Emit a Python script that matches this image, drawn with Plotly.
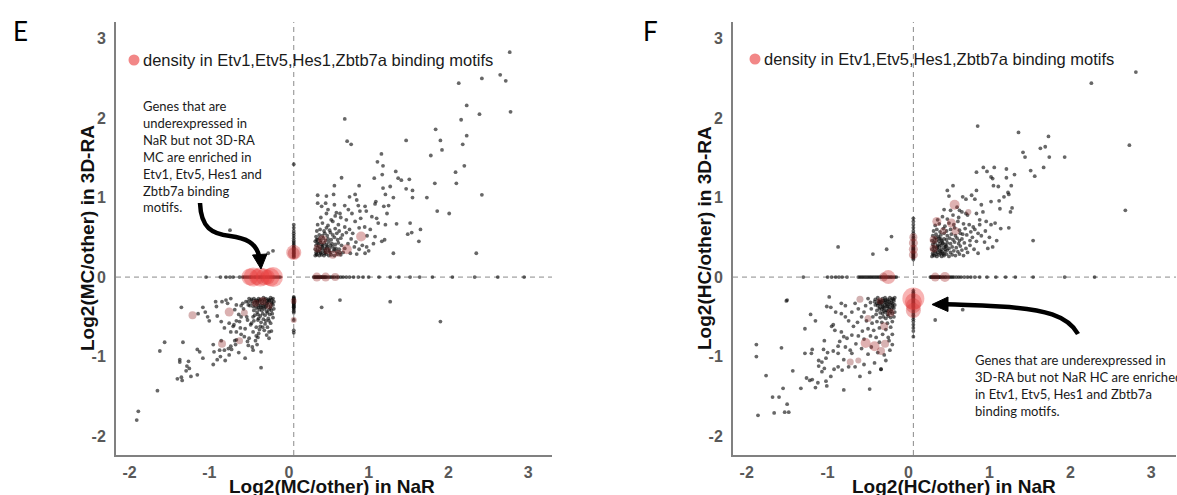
import plotly.graph_objects as go

W, H = 1177, 495

tick_vals = [-2, -1, 0, 1, 2, 3]
tick_text = ['-2', '-1', '0', '1', '2', '3']

# ---------------- Panel E : MC ----------------
e_scatter = [
    (2.77, 2.83), (2.65, 2.545), (2.72, 2.47), (2.42, 2.50), (2.13, 2.44), (2.23, 2.16), (2.39, 2.05),
    (2.78, 2.08), (2.16, 1.98), (0.70, 1.99), (1.84, 1.86), (2.23, 1.78), (2.18, 1.67), (1.90, 1.72),
    (1.92, 1.60), (1.47, 1.72), (0.73, 1.71), (0.78, 1.67), (1.78, 1.53), (1.16, 1.55), (1.11, 1.45),
    (1.18, 1.40), (2.20, 1.40), (2.09, 1.32), (1.34, 1.33), (1.17, 1.29), (1.07, 1.245), (0.66, 1.25),
    (1.37, 1.245), (1.41, 1.22), (1.51, 1.23), (2.10, 1.18), (1.83, 1.18), (0.57, 1.15), (0.88, 1.15),
    (1.27, 1.14), (1.18, 1.12), (1.47, 1.11), (1.55, 1.09), (2.42, 1.035), (0.36, 1.03), (0.47, 1.02),
    (0.56, 1.04), (0.76, 1.01), (0.83, 1.04), (1.21, 1.04), (1.55, 1.00), (1.73, 1.00), (1.31, 1.00),
    (0.36, 0.93), (0.46, 0.93), (0.57, 0.91), (0.70, 0.90), (0.85, 0.97), (0.87, 0.90), (1.09, 0.95),
    (1.08, 0.92), (0.955, 0.89), (1.19, 0.89), (1.25, 0.90), (1.86, 0.83), (2.01, 0.80), (0.41, 0.89),
    (0.49, 0.85), (0.595, 0.81), (0.64, 0.80), (0.745, 0.85), (0.89, 0.83), (0.79, 0.80), (0.97, 0.83),
    (1.04, 0.76), (1.10, 0.74), (1.23, 0.80), (1.35, 0.67), (1.54, 0.56), (1.52, 0.68), (1.65, 0.60),
    (1.49, 0.54), (1.63, 0.45), (1.31, 0.30), (2.35, 0.30), (1.20, 0.47), (1.165, 0.45), (1.08, 0.51),
    (1.12, 0.68), (1.21, 0.66), (0.975, 0.38), (0.955, 0.30),
    (-0.74, 0.59), (-0.26, 0.30), (-0.20, 0.33), (0.41, -0.38), (0.64, -0.29), (1.27, -0.31),
    (1.90, -0.56), (0.06, 1.42),
]
e_cluster_ne = [
    (0.33, 0.27), (0.35, 0.28), (0.38, 0.27), (0.41, 0.28), (0.44, 0.27), (0.47, 0.29), (0.50, 0.27),
    (0.53, 0.28), (0.57, 0.27), (0.61, 0.29), (0.65, 0.28), (0.34, 0.31), (0.37, 0.32), (0.40, 0.30),
    (0.43, 0.33), (0.46, 0.31), (0.49, 0.34), (0.52, 0.31), (0.56, 0.33), (0.60, 0.32), (0.68, 0.31),
    (0.33, 0.35), (0.36, 0.37), (0.39, 0.35), (0.42, 0.38), (0.45, 0.36), (0.48, 0.39), (0.51, 0.36),
    (0.55, 0.38), (0.59, 0.36), (0.63, 0.35), (0.70, 0.36), (0.34, 0.40), (0.37, 0.42), (0.41, 0.41),
    (0.44, 0.43), (0.47, 0.41), (0.50, 0.44), (0.54, 0.42), (0.58, 0.41), (0.62, 0.43), (0.66, 0.40),
    (0.33, 0.45), (0.36, 0.47), (0.40, 0.46), (0.43, 0.49), (0.46, 0.46), (0.49, 0.48), (0.53, 0.47),
    (0.57, 0.50), (0.61, 0.47), (0.65, 0.49), (0.34, 0.51), (0.38, 0.53), (0.42, 0.52), (0.45, 0.55),
    (0.48, 0.52), (0.52, 0.56), (0.55, 0.53), (0.60, 0.55), (0.67, 0.53), (0.35, 0.58), (0.39, 0.60),
    (0.44, 0.58), (0.47, 0.62), (0.51, 0.59), (0.58, 0.61), (0.63, 0.58), (0.72, 0.56), (0.36, 0.66),
    (0.42, 0.68), (0.49, 0.65), (0.55, 0.70), (0.62, 0.66), (0.70, 0.63), (0.76, 0.60), (0.80, 0.55),
    (0.78, 0.48), (0.84, 0.44), (0.74, 0.42), (0.82, 0.38), (0.88, 0.35), (0.77, 0.30), (0.85, 0.29),
    (0.92, 0.40), (0.98, 0.52), (1.02, 0.60), (0.95, 0.63), (0.88, 0.62), (1.06, 0.42), (1.00, 0.33),
    (0.72, 0.72), (0.65, 0.75), (0.58, 0.77), (0.83, 0.70), (0.90, 0.74), (0.40, 0.75), (0.47, 0.80),
    (0.53, 0.72), (0.345, 0.29), (0.395, 0.31), (0.445, 0.30), (0.355, 0.33), (0.405, 0.36),
    (0.455, 0.34), (0.505, 0.32), (0.375, 0.39), (0.425, 0.40), (0.475, 0.37), (0.355, 0.43),
    (0.395, 0.44), (0.52, 0.40), (0.57, 0.35), (0.385, 0.49), (0.345, 0.47), (0.64, 0.31),
]
e_band_h = [
    (0.31, 0), (0.32, 0), (0.33, 0), (0.34, 0), (0.35, 0), (0.36, 0), (0.37, 0), (0.38, 0), (0.39, 0),
    (0.40, 0), (0.41, 0), (0.42, 0), (0.43, 0), (0.44, 0), (0.45, 0), (0.46, 0), (0.47, 0), (0.49, 0),
    (0.51, 0), (0.53, 0), (0.55, 0), (0.57, 0), (0.60, 0), (0.62, 0), (0.65, 0), (0.68, 0), (0.72, 0),
    (0.76, 0), (0.81, 0), (0.87, 0), (0.93, 0), (1.00, 0), (1.13, 0), (1.27, 0), (1.38, 0), (1.52, 0),
    (1.64, 0), (1.80, 0), (2.05, 0), (2.33, 0), (2.62, 0), (2.95, 0),
    (-1.04, 0), (-0.86, 0), (-0.79, 0), (-0.74, 0), (-0.70, 0), (-0.62, 0), (-0.58, 0), (-0.56, 0),
    (-0.54, 0), (-0.52, 0), (-0.50, 0), (-0.48, 0), (-0.47, 0), (-0.45, 0), (-0.43, 0), (-0.42, 0),
    (-0.40, 0), (-0.38, 0), (-0.37, 0), (-0.35, 0), (-0.34, 0), (-0.32, 0), (-0.31, 0), (-0.29, 0),
    (-0.28, 0), (-0.26, 0), (-0.25, 0), (-0.23, 0), (-0.22, 0), (-0.20, 0), (-0.19, 0), (-0.17, 0),
    (-0.15, 0), (-0.13, 0), (-0.11, 0),
]
e_band_v = [
    (0.06, 0.25), (0.06, 0.26), (0.06, 0.27), (0.06, 0.28), (0.06, 0.29), (0.06, 0.30), (0.06, 0.31),
    (0.06, 0.32), (0.06, 0.33), (0.06, 0.34), (0.06, 0.35), (0.06, 0.36), (0.06, 0.37), (0.06, 0.38),
    (0.06, 0.40), (0.06, 0.42), (0.06, 0.44), (0.06, 0.46), (0.06, 0.49), (0.06, 0.52), (0.06, 0.55),
    (0.06, 0.58), (0.06, 0.62), (0.06, 0.66),
    (0.06, -0.25), (0.06, -0.26), (0.06, -0.27), (0.06, -0.28), (0.06, -0.29), (0.06, -0.30),
    (0.06, -0.31), (0.06, -0.32), (0.06, -0.33), (0.06, -0.34), (0.06, -0.35), (0.06, -0.36),
    (0.06, -0.37), (0.06, -0.38), (0.06, -0.39), (0.06, -0.41), (0.06, -0.43), (0.06, -0.45),
    (0.06, -0.54), (0.06, -0.67), (0.06, -0.70),
]
e_cluster_sw = [
    (-0.20, -0.27), (-0.23, -0.26), (-0.26, -0.28), (-0.29, -0.27), (-0.32, -0.26), (-0.35, -0.28),
    (-0.38, -0.27), (-0.41, -0.29), (-0.44, -0.27), (-0.47, -0.28), (-0.50, -0.27), (-0.19, -0.31),
    (-0.22, -0.32), (-0.25, -0.30), (-0.28, -0.33), (-0.31, -0.31), (-0.34, -0.33), (-0.37, -0.31),
    (-0.40, -0.34), (-0.43, -0.32), (-0.46, -0.33), (-0.51, -0.31), (-0.20, -0.35), (-0.23, -0.37),
    (-0.26, -0.35), (-0.29, -0.38), (-0.32, -0.36), (-0.35, -0.38), (-0.38, -0.36), (-0.41, -0.39),
    (-0.45, -0.37), (-0.49, -0.36), (-0.19, -0.40), (-0.22, -0.42), (-0.25, -0.41), (-0.28, -0.43),
    (-0.31, -0.40), (-0.34, -0.42), (-0.37, -0.41), (-0.40, -0.44), (-0.44, -0.42), (-0.21, -0.46),
    (-0.24, -0.47), (-0.27, -0.45), (-0.30, -0.48), (-0.33, -0.46), (-0.36, -0.49), (-0.39, -0.47),
    (-0.43, -0.48), (-0.20, -0.51), (-0.26, -0.52), (-0.32, -0.53), (-0.38, -0.52), (-0.35, -0.57),
    (-0.36, -0.62), (-0.37, -0.66), (-0.38, -0.71), (-0.39, -0.76), (-0.42, -0.80), (-0.40, -0.85),
    (-0.29, -0.55), (-0.23, -0.58), (-0.27, -0.63), (-0.22, -0.68), (-0.44, -0.55), (-0.48, -0.60),
    (-0.53, -0.50), (-0.57, -0.40), (-0.60, -0.36), (-0.63, -0.47), (-0.66, -0.55), (-0.70, -0.62),
    (-0.55, -0.65), (-0.60, -0.72), (-0.68, -0.80), (-0.51, -0.86), (-0.45, -0.92), (-0.63, -0.95),
    (-0.75, -0.98), (-0.80, -1.05), (-0.86, -1.00), (-0.95, -1.10), (-0.55, -1.02),
    (-0.215, -0.285), (-0.245, -0.29), (-0.275, -0.30), (-0.305, -0.285), (-0.335, -0.30),
    (-0.365, -0.29), (-0.395, -0.30), (-0.425, -0.30), (-0.215, -0.335), (-0.265, -0.32),
    (-0.305, -0.345), (-0.355, -0.35), (-0.395, -0.32), (-0.235, -0.39), (-0.285, -0.365),
    (-0.335, -0.38), (-0.385, -0.385), (-0.425, -0.36), (-0.47, -0.30),
]
e_scatter_sw = [
    (-1.91, -1.80), (-1.89, -1.69), (-1.65, -1.43), (-1.62, -0.93), (-1.56, -0.82), (-1.33, -0.82),
    (-1.35, -0.38), (-1.08, -0.38), (-1.05, -0.44), (-1.14, -0.46), (-1.02, -0.50), (-1.00, -0.55),
    (-1.15, -0.91), (-1.12, -0.94), (-1.08, -1.02), (-1.37, -1.04), (-1.37, -1.07), (-1.26, -1.06),
    (-1.28, -1.12), (-1.29, -1.18), (-1.25, -1.15), (-1.40, -1.28), (-1.35, -1.26), (-1.34, -1.30),
    (-1.23, -1.25), (-1.15, -1.23), (-0.90, -1.04), (-0.95, -0.85), (-0.94, -0.94), (-0.85, -0.80),
    (-0.87, -0.92), (-0.81, -0.92), (-0.76, -0.90), (-0.72, -0.91), (-0.90, -0.49), (-0.92, -0.31),
    (-0.91, -0.37), (-0.84, -0.31), (-0.79, -0.29), (-0.73, -0.27), (-0.77, -0.33), (-0.66, -0.35),
    (-0.68, -0.41), (-0.85, -0.56), (-0.75, -0.58), (-0.81, -0.64), (-0.73, -0.69), (-0.66, -0.69),
    (-0.69, -0.60), (-0.62, -0.56), (-0.61, -0.64), (-0.60, -0.50), (-0.58, -0.33), (-0.54, -0.31),
    (-0.51, -0.35), (-0.66, -0.79), (-0.67, -0.85), (-0.73, -0.87), (-0.56, -0.75), (-0.50, -0.77),
    (-0.52, -0.81), (-0.46, -0.88), (-0.41, -0.74), (-0.35, -0.94), (-0.35, -1.14), (-0.28, -0.73),
    (-0.25, -0.77), (-0.25, -0.69), (-0.31, -0.67), (-0.33, -0.63), (-0.30, -0.59), (-0.25, -0.55),
    (-0.45, -0.69), (-0.41, -0.63), (-0.47, -0.58), (-0.52, -0.54), (-0.45, -0.50), (-0.39, -0.54),
]
# motif-density circles: (x, y, density)
e_pink = [
    (-0.49, 0, 17), (-0.45, 0, 19), (-0.40, 0, 16), (-0.36, 0, 19), (-0.31, 0, 17), (-0.27, 0, 15),
    (-0.23, 0, 18), (-0.20, 0, 20), (0.06, 0.31, 15), (0.06, 0.30, 12),
    (0.35, 0, 9), (0.46, 0, 9), (0.58, 0, 8), (0.905, 0.51, 10), (0.725, 0.35, 10), (0.42, 0.47, 9),
    (0.55, 0.28, 8), (0.36, 0.36, 8), (0.48, 0.33, 7), (0.62, 0.30, 7), (-1.21, -0.48, 8),
    (-0.75, -0.44, 9), (-0.84, -0.84, 8), (-0.62, -0.80, 7), (-0.56, -0.45, 7), (-0.33, -0.30, 8),
    (-0.25, -0.36, 7), (-0.42, -0.33, 7), (0.06, -0.54, 6), (0.06, -0.30, 6),
]

# ---------------- Panel F : HC ----------------
f_scatter = [
    (2.81, 2.58), (2.26, 2.44), (2.73, 1.66), (2.68, 0.84), (0.855, 1.90), (1.36, 1.82), (1.73, 1.77),
    (1.69, 1.64), (1.63, 1.62), (1.415, 1.57), (1.44, 1.51), (1.74, 1.51), (1.93, 1.51), (1.51, 1.34),
    (1.67, 1.38), (1.56, 1.27), (1.31, 1.29), (1.21, 1.36), (1.21, 1.25), (1.06, 1.38), (0.925, 1.38),
    (0.97, 1.33), (1.02, 1.26), (0.84, 1.32), (1.04, 1.24), (1.05, 1.15), (1.11, 1.14), (1.27, 1.15),
    (1.23, 1.065), (1.24, 1.04), (1.18, 1.01), (0.55, 1.15), (0.48, 1.09), (0.50, 1.02), (0.67, 1.01),
    (0.71, 0.98), (0.78, 1.03), (0.84, 1.09), (0.82, 0.98), (0.90, 0.91), (1.02, 0.95), (1.12, 0.96),
    (1.13, 0.86), (1.28, 0.87), (1.26, 0.82), (0.63, 0.84), (0.71, 0.80), (0.84, 0.80), (0.92, 0.82),
    (0.88, 0.72), (0.96, 0.70), (1.02, 0.66), (1.07, 0.68), (1.14, 0.61), (1.24, 0.62), (1.09, 0.46),
    (1.00, 0.50), (0.94, 0.44), (0.86, 0.30), (0.98, 0.36), (1.04, 0.38), (1.54, 0.46), (0.80, 0.63),
    (0.63, 0.46), (0.67, 0.54), (0.76, 0.46),
    (-0.21, 0.51), (-0.27, 0.35), (-0.87, 0.38), (-0.44, 0.29), (0.67, -0.41), (0.33, -0.54),
    (-1.50, -0.29),
]
f_cluster_ne = [
    (0.29, 0.26), (0.32, 0.27), (0.35, 0.26), (0.38, 0.28), (0.41, 0.26), (0.44, 0.27), (0.47, 0.29),
    (0.50, 0.26), (0.54, 0.28), (0.58, 0.27), (0.63, 0.29), (0.68, 0.27), (0.30, 0.30), (0.33, 0.32),
    (0.36, 0.31), (0.39, 0.33), (0.42, 0.30), (0.45, 0.32), (0.48, 0.34), (0.52, 0.31), (0.56, 0.33),
    (0.61, 0.32), (0.66, 0.34), (0.29, 0.35), (0.32, 0.37), (0.35, 0.36), (0.38, 0.38), (0.41, 0.35),
    (0.44, 0.37), (0.47, 0.39), (0.50, 0.36), (0.54, 0.38), (0.59, 0.37), (0.64, 0.39), (0.71, 0.36),
    (0.30, 0.41), (0.33, 0.43), (0.36, 0.40), (0.39, 0.42), (0.42, 0.44), (0.45, 0.41), (0.48, 0.43),
    (0.52, 0.42), (0.57, 0.44), (0.62, 0.42), (0.69, 0.43), (0.29, 0.46), (0.32, 0.48), (0.35, 0.47),
    (0.38, 0.49), (0.41, 0.46), (0.44, 0.48), (0.47, 0.47), (0.51, 0.49), (0.55, 0.47), (0.60, 0.49),
    (0.66, 0.48), (0.30, 0.52), (0.34, 0.54), (0.37, 0.51), (0.40, 0.53), (0.44, 0.55), (0.48, 0.52),
    (0.53, 0.54), (0.58, 0.52), (0.64, 0.55), (0.72, 0.53), (0.31, 0.58), (0.35, 0.60), (0.39, 0.57),
    (0.43, 0.61), (0.47, 0.58), (0.52, 0.60), (0.57, 0.62), (0.63, 0.59), (0.70, 0.61), (0.77, 0.57),
    (0.33, 0.65), (0.38, 0.67), (0.45, 0.64), (0.50, 0.68), (0.56, 0.66), (0.61, 0.70), (0.68, 0.67),
    (0.75, 0.66), (0.82, 0.60), (0.86, 0.55), (0.79, 0.50), (0.84, 0.45), (0.76, 0.40), (0.81, 0.35),
    (0.73, 0.31), (0.90, 0.52), (0.95, 0.58), (0.88, 0.66), (0.36, 0.72), (0.42, 0.76), (0.48, 0.73),
    (0.55, 0.78), (0.62, 0.75), (0.66, 0.82), (0.73, 0.78), (0.60, 0.88), (0.52, 0.84), (0.44, 0.85),
    (0.305, 0.28), (0.345, 0.29), (0.395, 0.30), (0.435, 0.29), (0.315, 0.33), (0.365, 0.345),
    (0.405, 0.32), (0.455, 0.35), (0.31, 0.385), (0.355, 0.385), (0.405, 0.40), (0.46, 0.385),
    (0.315, 0.44), (0.375, 0.45), (0.425, 0.425), (0.335, 0.50), (0.40, 0.48),
]
f_band_h = [
    (0.27, 0), (0.28, 0), (0.29, 0), (0.30, 0), (0.31, 0), (0.32, 0), (0.33, 0), (0.34, 0), (0.35, 0),
    (0.36, 0), (0.37, 0), (0.38, 0), (0.39, 0), (0.40, 0), (0.42, 0), (0.43, 0), (0.45, 0), (0.46, 0),
    (0.48, 0), (0.50, 0), (0.52, 0), (0.54, 0), (0.56, 0), (0.59, 0), (0.62, 0), (0.65, 0), (0.69, 0),
    (0.73, 0), (0.77, 0), (0.82, 0), (0.88, 0), (0.97, 0), (1.08, 0), (1.20, 0), (1.32, 0), (1.54, 0),
    (1.93, 0), (2.30, 0),
    (-1.30, 0), (-1.00, 0), (-0.95, 0), (-0.90, 0), (-0.86, 0), (-0.82, 0), (-0.76, 0), (-0.62, 0),
    (-0.60, 0), (-0.58, 0), (-0.56, 0), (-0.54, 0), (-0.52, 0), (-0.50, 0), (-0.48, 0), (-0.46, 0),
    (-0.44, 0), (-0.42, 0), (-0.40, 0), (-0.38, 0), (-0.36, 0), (-0.34, 0), (-0.33, 0), (-0.31, 0),
    (-0.30, 0), (-0.28, 0), (-0.27, 0), (-0.25, 0), (-0.24, 0), (-0.22, 0), (-0.21, 0), (-0.19, 0),
    (-0.17, 0), (-0.15, 0),
]
f_band_v = [
    (0.06, 0.22), (0.06, 0.24), (0.06, 0.25), (0.06, 0.26), (0.06, 0.27), (0.06, 0.28), (0.06, 0.29),
    (0.06, 0.30), (0.06, 0.31), (0.06, 0.32), (0.06, 0.33), (0.06, 0.34), (0.06, 0.35), (0.06, 0.36),
    (0.06, 0.37), (0.06, 0.38), (0.06, 0.40), (0.06, 0.42), (0.06, 0.44), (0.06, 0.46), (0.06, 0.48),
    (0.06, 0.50), (0.06, 0.52), (0.06, 0.55), (0.06, 0.58), (0.06, 0.62), (0.06, 0.66), (0.06, 0.70),
    (0.06, 0.74),
    (0.06, -0.17), (0.06, -0.19), (0.06, -0.21), (0.06, -0.22), (0.06, -0.23), (0.06, -0.24),
    (0.06, -0.25), (0.06, -0.26), (0.06, -0.27), (0.06, -0.28), (0.06, -0.29), (0.06, -0.30),
    (0.06, -0.31), (0.06, -0.32), (0.06, -0.33), (0.06, -0.34), (0.06, -0.35), (0.06, -0.36),
    (0.06, -0.37), (0.06, -0.38), (0.06, -0.40), (0.06, -0.42), (0.06, -0.44), (0.06, -0.46),
    (0.06, -0.48), (0.06, -0.50), (0.06, -0.53), (0.06, -0.56), (0.06, -0.60), (0.06, -0.64),
    (0.06, -0.68), (0.06, -0.75),
]
f_cluster_sw = [
    (-0.17, -0.26), (-0.20, -0.27), (-0.23, -0.26), (-0.26, -0.28), (-0.29, -0.26), (-0.32, -0.27),
    (-0.35, -0.29), (-0.38, -0.26), (-0.41, -0.28), (-0.18, -0.30), (-0.21, -0.32), (-0.24, -0.31),
    (-0.27, -0.33), (-0.30, -0.30), (-0.33, -0.32), (-0.36, -0.31), (-0.39, -0.33), (-0.42, -0.31),
    (-0.17, -0.35), (-0.20, -0.36), (-0.23, -0.34), (-0.26, -0.37), (-0.29, -0.35), (-0.32, -0.37),
    (-0.35, -0.34), (-0.38, -0.36), (-0.41, -0.35), (-0.18, -0.39), (-0.21, -0.41), (-0.24, -0.40),
    (-0.27, -0.42), (-0.30, -0.39), (-0.33, -0.41), (-0.36, -0.40), (-0.39, -0.42), (-0.17, -0.44),
    (-0.20, -0.46), (-0.23, -0.45), (-0.26, -0.47), (-0.29, -0.44), (-0.32, -0.46), (-0.35, -0.45),
    (-0.40, -0.47), (-0.18, -0.50), (-0.22, -0.51), (-0.25, -0.49), (-0.28, -0.52), (-0.31, -0.50),
    (-0.35, -0.51), (-0.44, -0.50), (-0.47, -0.32), (-0.46, -0.40), (-0.50, -0.27), (-0.53, -0.36),
    (-0.55, -0.44), (-0.20, -0.56), (-0.26, -0.58), (-0.33, -0.57), (-0.39, -0.56), (-0.45, -0.58),
    (-0.52, -0.55), (-0.58, -0.50), (-0.62, -0.40), (-0.66, -0.33), (-0.70, -0.44), (-0.63, -0.57),
    (-0.22, -0.63), (-0.28, -0.66), (-0.36, -0.64), (-0.43, -0.67), (-0.50, -0.65), (-0.57, -0.68),
    (-0.68, -0.62), (-0.74, -0.55), (-0.20, -0.72), (-0.25, -0.76), (-0.32, -0.72), (-0.40, -0.76),
    (-0.47, -0.74), (-0.55, -0.78), (-0.62, -0.74), (-0.20, -0.85), (-0.24, -0.80), (-0.36, -0.82),
    (-0.46, -0.88), (-0.58, -0.90), (-0.65, -0.84), (-0.23, -0.92), (-0.30, -0.98), (-0.38, -0.95),
    (-0.50, -0.97), (-0.70, -0.96), (-0.28, -1.05), (-0.42, -1.08), (-0.55, -1.10), (-0.66, -1.13),
    (-0.34, -1.16), (-0.48, -1.20),
    (-0.185, -0.28), (-0.215, -0.29), (-0.255, -0.30), (-0.285, -0.29), (-0.315, -0.30),
    (-0.345, -0.31), (-0.375, -0.30), (-0.195, -0.335), (-0.245, -0.345), (-0.285, -0.32),
    (-0.325, -0.345), (-0.365, -0.335), (-0.195, -0.375), (-0.235, -0.38), (-0.275, -0.37),
    (-0.315, -0.385), (-0.355, -0.38), (-0.215, -0.43), (-0.255, -0.43), (-0.305, -0.425),
]
f_scatter_sw = [
    (-1.86, -1.74), (-1.66, -1.71), (-1.53, -1.70), (-1.48, -1.70), (-1.50, -1.60), (-1.68, -1.51),
    (-1.60, -1.51), (-1.55, -1.40), (-1.33, -1.40), (-1.76, -1.24), (-1.88, -1.00), (-1.88, -0.85),
    (-1.57, -0.89), (-1.51, -0.30), (-1.43, -1.18), (-1.26, -1.27), (-1.22, -1.30), (-1.19, -1.29),
    (-1.15, -1.39), (-1.12, -1.33), (-1.02, -1.31), (-1.01, -1.37), (-0.96, -1.25), (-1.07, -1.19),
    (-1.04, -1.15), (-1.11, -1.12), (-1.07, -1.07), (-1.11, -1.05), (-1.02, -1.02), (-0.92, -1.16),
    (-0.87, -1.13), (-0.82, -1.17), (-0.80, -1.42), (-0.48, -1.41), (-0.60, -1.25), (-0.74, -1.13),
    (-0.80, -1.04), (-0.87, -0.96), (-0.93, -0.93), (-1.00, -0.95), (-1.05, -0.91), (-1.04, -0.80),
    (-1.20, -0.96), (-1.28, -0.96), (-1.19, -0.91), (-1.28, -0.65), (-1.21, -0.47), (-1.15, -0.55),
    (-1.01, -0.37), (-0.96, -0.38), (-0.98, -0.25), (-0.93, -0.60), (-0.95, -0.62), (-0.91, -0.67),
    (-0.83, -0.69), (-0.90, -0.44), (-0.83, -0.33), (-0.78, -0.36), (-0.83, -0.46), (-0.78, -0.50),
    (-0.80, -0.75), (-0.85, -0.81), (-0.76, -0.77), (-0.70, -0.73), (-0.87, -0.87), (-0.78, -0.88),
    (-0.72, -0.92), (-0.34, -1.16),
]
f_pink = [
    (0.06, -0.27, 22), (0.06, -0.31, 17), (0.06, -0.36, 15), (0.06, -0.42, 15), (0.06, 0.28, 9),
    (0.06, 0.35, 9), (0.06, 0.43, 9), (0.06, 0.50, 8), (-0.25, 0, 14), (-0.31, 0, 9), (0.33, 0, 9),
    (0.45, 0, 10), (0.57, 0.91, 10), (0.35, 0.70, 9), (0.53, 0.68, 9), (0.58, 0.58, 8), (0.31, 0.47, 8),
    (0.31, 0.36, 8), (0.43, 0.58, 7), (0.74, 0.82, 6), (-0.60, -0.28, 7), (-0.50, -0.52, 7),
    (-0.53, -0.83, 10), (-0.42, -0.87, 10), (-0.34, -0.93, 8), (-0.29, -0.84, 8), (-0.30, -0.62, 8),
    (-0.72, -1.07, 7), (-0.62, -1.05, 6), (-0.22, -0.45, 8), (-0.35, -0.30, 7),
]

legend_text = 'density in Etv1,Etv5,Hes1,Zbtb7a binding motifs'
note_e = ('Genes that are<br>underexpressed in<br>NaR but not 3D-RA<br>MC are enriched in<br>'
          'Etv1, Etv5, Hes1 and<br>Zbtb7a binding<br>motifs.')
note_f = ('Genes that are underexpressed in<br>3D-RA but not NaR HC are enriched<br>'
          'in Etv1, Etv5, Hes1 and Zbtb7a<br>binding motifs.')

# ---------------- build ----------------
e_all = e_scatter + e_cluster_ne + e_band_h + e_band_v + e_cluster_sw + e_scatter_sw
f_all = f_scatter + f_cluster_ne + f_band_h + f_band_v + f_cluster_sw + f_scatter_sw

pink_scale = [[0, 'rgba(130,35,35,0.5)'], [0.5, 'rgba(200,55,55,0.55)'], [1, 'rgba(238,60,60,0.55)']]
dot_marker = dict(size=3.8, color='rgba(10,10,10,0.62)', line=dict(width=0))

fig = go.Figure()
for pts, pink, xa, ya in [(e_all, e_pink, 'x', 'y'), (f_all, f_pink, 'x2', 'y2')]:
    fig.add_trace(go.Scatter(x=[p[0] for p in pts], y=[p[1] for p in pts], mode='markers',
                             marker=dot_marker, xaxis=xa, yaxis=ya, hoverinfo='skip'))
    fig.add_trace(go.Scatter(x=[p[0] for p in pink], y=[p[1] for p in pink], mode='markers',
                             marker=dict(size=[p[2] for p in pink], color=[p[2] for p in pink],
                                         colorscale=pink_scale, cmin=7, cmax=18, line=dict(width=0)),
                             xaxis=xa, yaxis=ya, hoverinfo='skip'))

tickfont = dict(family='Liberation Sans, Arial', size=16, color='#595959', weight='bold')
ax = dict(showline=True, linecolor='#808080', linewidth=2, showgrid=False, zeroline=False,
          ticks='', tickvals=tick_vals, ticktext=tick_text, tickfont=tickfont)

ydom = [40 / H, 473 / H]
fig.update_layout(
    width=W, height=H, margin=dict(l=0, r=0, t=0, b=0),
    paper_bgcolor='white', plot_bgcolor='white', showlegend=False,
    xaxis=dict(ax, domain=[116 / W, 552 / W], range=[-2.17, 3.30], anchor='y', ticklabelstandoff=2),
    yaxis=dict(ax, domain=ydom, range=[-2.239, 3.21], anchor='x', ticklabelstandoff=5),
    xaxis2=dict(ax, domain=[733 / W, 1176 / W], range=[-2.169, 3.306], anchor='y2', ticklabelstandoff=2),
    yaxis2=dict(ax, domain=ydom, range=[-2.239, 3.21], anchor='x2', ticklabelstandoff=5),
)


def P(x, y):
    return x / W, 1 - y / H


def path(cmds):
    out = []
    for c in cmds:
        if isinstance(c, str):
            out.append(c)
        else:
            px_, py_ = P(*c)
            out.append(f'{px_:.5f},{py_:.5f}')
    return ' '.join(out)


shapes = []
for xa, ya in [('x', 'y'), ('x2', 'y2')]:
    dash = dict(color='#8a8a8a', width=1, dash='5px,4px')
    shapes.append(dict(type='line', xref=xa, yref=ya + ' domain', x0=0.06, x1=0.06, y0=0, y1=1,
                       line=dash, layer='below'))
    shapes.append(dict(type='line', xref=xa + ' domain', yref=ya, x0=0, x1=1, y0=0, y1=0,
                       line=dash, layer='below'))

# curved arrows
shapes.append(dict(type='path', xref='paper', yref='paper',
                   path=path(['M', (200, 203), 'C', (201, 228), (212, 234), (230, 236),
                              'C', (246, 238), (256, 243), (259, 256)]),
                   line=dict(color='black', width=4.5)))
shapes.append(dict(type='path', xref='paper', yref='paper',
                   path=path(['M', (252.5, 255), 'L', (267, 254), 'L', (261, 269), 'Z']),
                   fillcolor='black', line=dict(color='black', width=1)))
shapes.append(dict(type='path', xref='paper', yref='paper',
                   path=path(['M', (1078, 334), 'C', (1068, 316), (1045, 309), (1000, 306.5),
                              'C', (980, 305.5), (962, 304.6), (946, 304.3)]),
                   line=dict(color='black', width=4.5)))
shapes.append(dict(type='path', xref='paper', yref='paper',
                   path=path(['M', (948, 297), 'L', (948, 311.5), 'L', (932, 304.5), 'Z']),
                   fillcolor='black', line=dict(color='black', width=1)))

# legend keys
for cx, cy in [(134, 60), (755, 59)]:
    ax_, ay_ = P(cx, cy)
    shapes.append(dict(type='circle', xref='paper', yref='paper', xsizemode='pixel', ysizemode='pixel',
                       xanchor=ax_, yanchor=ay_, x0=-5.5, x1=5.5, y0=-5.5, y1=5.5,
                       fillcolor='rgba(238,95,95,0.75)', line=dict(width=0)))

ann = []
title_font = dict(family='Liberation Sans, Arial', size=19, color='#111111', weight='bold')
for letter, lx, xt, yt, xc, yc in [
        ('E', 20, 'Log2(MC/other) in NaR', 'Log2(MC/other) in 3D-RA', 332, 87),
        ('F', 650, 'Log2(HC/other) in NaR', 'Log2(HC/other) in 3D-RA', 954, 704)]:
    x_, y_ = P(lx, 31)
    ann.append(dict(text=letter, x=x_, y=y_, xref='paper', yref='paper', showarrow=False,
                    font=dict(family='Lato', size=26, color='black'), xanchor='center', yanchor='middle'))
    x_, y_ = P(xc, 486)
    ann.append(dict(text=xt, x=x_, y=y_, xref='paper', yref='paper', showarrow=False,
                    font=title_font, xanchor='center', yanchor='middle'))
    x_, y_ = P(yc, 238)
    ann.append(dict(text=yt, x=x_, y=y_, xref='paper', yref='paper', showarrow=False, textangle=-90,
                    font=title_font, xanchor='center', yanchor='middle'))

for tx, ty in [(141, 60), (762, 59)]:
    x_, y_ = P(tx, ty)
    ann.append(dict(text=legend_text, x=x_, y=y_, xref='paper', yref='paper', showarrow=False,
                    font=dict(family='Liberation Sans, Arial', size=16.5, color='#1a1a1a'),
                    xanchor='left', yanchor='middle'))

x_, y_ = P(141, 156)
ann.append(dict(text=note_e, x=x_, y=y_, xref='paper', yref='paper', showarrow=False, align='left',
                font=dict(family='Lato', size=13, color='#1a1a1a'), xanchor='left', yanchor='middle'))
x_, y_ = P(973, 385.5)
ann.append(dict(text=note_f, x=x_, y=y_, xref='paper', yref='paper', showarrow=False, align='left',
                font=dict(family='Lato', size=13, color='#1a1a1a'), xanchor='left', yanchor='middle'))

fig.update_layout(shapes=shapes, annotations=ann)
fig.write_html('out.html')
